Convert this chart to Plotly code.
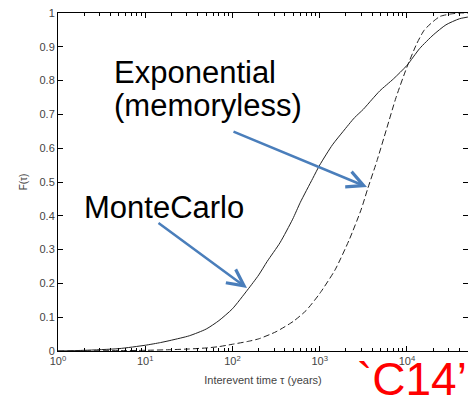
import plotly.graph_objects as go

# ---- data ----
tau_mc = [1, 2, 5, 10, 15, 20, 32, 50, 70, 100, 148, 200, 250, 350, 490, 600, 830, 1000, 1400, 1860,
          2500, 3160, 4000, 4900, 7000, 10000, 14000, 20000, 28000, 40000, 56000]
F_mc = [0.0, 0.002, 0.007, 0.017, 0.025, 0.032, 0.045, 0.065, 0.09, 0.125, 0.18, 0.225, 0.265, 0.32, 0.39, 0.44,
        0.51, 0.55, 0.61, 0.65, 0.69, 0.715, 0.745, 0.77, 0.805, 0.845, 0.895, 0.935, 0.965, 0.983, 0.99]

tau_exp = [1, 2, 5, 10, 20, 32, 50, 70, 100, 148, 200, 316, 500, 700, 1000, 1500, 2188, 3000, 3548, 4500,
           5888, 7500, 10000, 13000, 15850, 20000, 24000, 31600, 40000, 56000]
F_exp = [0.0, 0.0004, 0.001, 0.002, 0.004, 0.006, 0.009, 0.013, 0.02, 0.028, 0.036, 0.057, 0.088, 0.12, 0.17,
         0.24, 0.33, 0.42, 0.48, 0.56, 0.66, 0.75, 0.84, 0.91, 0.95, 0.975, 0.99, 0.997, 1.0, 1.0]

x_tickvals = [1, 10, 100, 1000, 10000]
x_ticktext = ["10<sup>0</sup>", "10<sup>1</sup>", "10<sup>2</sup>", "10<sup>3</sup>", "10<sup>4</sup>"]
x_minor = [m * d for d in [1, 10, 100, 1000, 10000] for m in range(2, 10)]
y_tickvals = [0, 0.1, 0.2, 0.3, 0.4, 0.5, 0.6, 0.7, 0.8, 0.9, 1]
y_ticktext = ["0", "0.1", "0.2", "0.3", "0.4", "0.5", "0.6", "0.7", "0.8", "0.9", "1"]

W, H = 468, 403
L, T, B, R = 58, 13, 52, 0
pw, ph = W - L - R, H - T - B

def px(x):
    return (x - L) / pw

def py(y):
    return (H - B - y) / ph

FONT = "Arial, Liberation Sans, Helvetica, sans-serif"

fig = go.Figure()
fig.add_trace(go.Scatter(x=tau_mc, y=F_mc, mode="lines",
                         line=dict(color="#222", width=1, shape="spline", smoothing=0.6), showlegend=False))
fig.add_trace(go.Scatter(x=tau_exp, y=F_exp, mode="lines",
                         line=dict(color="#222", width=1, dash="6px,3px", shape="spline", smoothing=0.6),
                         showlegend=False))

fig.update_layout(
    width=W, height=H,
    margin=dict(l=L, r=R, t=T, b=B, pad=0),
    paper_bgcolor="white", plot_bgcolor="white",
    font=dict(family=FONT, size=11, color="#444"),
    showlegend=False,
)
fig.update_xaxes(
    type="log", range=[0, 4.70],
    tickvals=x_tickvals, ticktext=x_ticktext,
    ticks="inside", ticklen=5, tickcolor="black",
    minor=dict(tickvals=x_minor, ticks="inside", ticklen=3, tickcolor="black"),
    showline=True, linecolor="black", linewidth=1, mirror="allticks",
    showgrid=False, zeroline=False,
    tickfont=dict(size=11, color="#444"),
    title=dict(text="Interevent time τ (years)", font=dict(size=11, color="#444"), standoff=10),
)
fig.update_yaxes(
    range=[0, 1],
    tickvals=y_tickvals, ticktext=y_ticktext,
    ticks="inside", ticklen=5, tickcolor="black",
    showline=True, linecolor="black", linewidth=1, mirror="allticks",
    showgrid=False, zeroline=False,
    tickfont=dict(size=11, color="#444"),
    title=dict(text="F(τ)", font=dict(size=10, color="#444"), standoff=10),
)

big = dict(family=FONT, size=31, color="black")
anns = [
    dict(text="Exponential", x=px(112), y=py(72), xanchor="left", yanchor="middle", font=big),
    dict(text="(memoryless)", x=px(112), y=py(106), xanchor="left", yanchor="middle", font=big),
    dict(text="MonteCarlo", x=px(82), y=py(207), xanchor="left", yanchor="middle", font=big),
    dict(text="`C14’", x=px(355), y=py(379), xanchor="left", yanchor="middle",
         font=dict(family=FONT, size=46, color="#ff0000")),
]
for a in anns:
    fig.add_annotation(xref="paper", yref="paper", showarrow=False, **a)

arrows = [
    ((247, 288), (157, 222)),
    ((367, 187), (232, 131)),
]
for (tx, ty), (sx, sy) in arrows:
    fig.add_annotation(xref="paper", yref="paper", x=px(tx), y=py(ty), text="",
                       showarrow=True, ax=sx - tx, ay=sy - ty,
                       arrowhead=5, arrowsize=1.3, arrowwidth=2.5, arrowcolor="#4a7ebb")

fig.write_html("out.html")
